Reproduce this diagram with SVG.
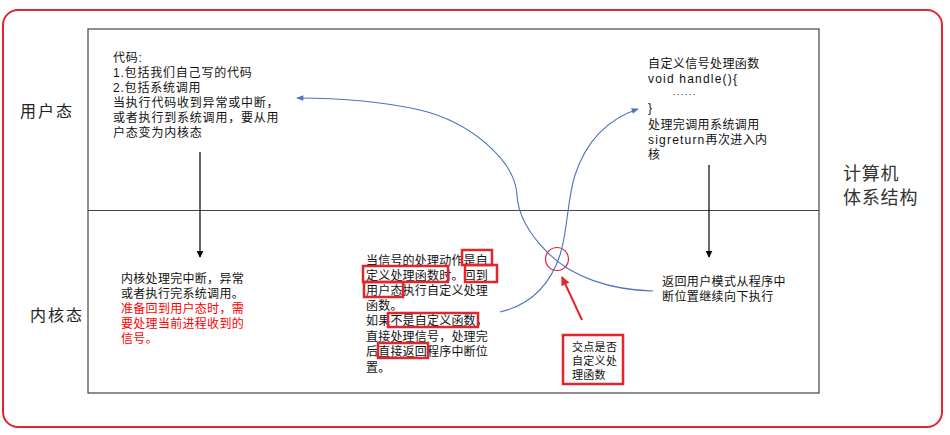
<svg xmlns="http://www.w3.org/2000/svg" width="950" height="435" viewBox="0 0 950 435">
<style>
.t{font-family:"Liberation Sans","Noto Sans CJK SC",sans-serif;font-size:12px;fill:#111;}
.lat{letter-spacing:1.2px;}
.lab{font-family:"Noto Sans CJK SC",sans-serif;font-size:16px;fill:#222;letter-spacing:2px;}
.big{font-family:"Noto Sans CJK SC",sans-serif;font-size:18px;fill:#333;letter-spacing:0.8px;}
.red{fill:#ff0000;}
.rbox{fill:none;stroke:#e3262e;stroke-width:2.5;}
.blk{stroke:#000;stroke-width:1.2;fill:none;}
.blue{stroke:#4a72c4;stroke-width:1.1;fill:none;}
</style>
<defs>
<marker id="ab" viewBox="0 0 10 10" refX="9" refY="5" markerWidth="7" markerHeight="7" orient="auto" markerUnits="userSpaceOnUse"><path d="M0,0 L10,5 L0,10 z" fill="#000"/></marker>
<marker id="au" viewBox="0 0 10 10" refX="9" refY="5" markerWidth="8" markerHeight="7" orient="auto" markerUnits="userSpaceOnUse"><path d="M0,1 L10,5 L0,9 z" fill="#4a72c4"/></marker>
<marker id="ar" viewBox="0 0 10 10" refX="9" refY="5" markerWidth="10" markerHeight="9" orient="auto" markerUnits="userSpaceOnUse"><path d="M0,0 L10,5 L0,10 z" fill="#e3262e"/></marker>
</defs>
<rect x="0" y="0" width="950" height="435" fill="#fff"/>
<rect id="frame" x="3" y="10" width="939" height="417" rx="15" ry="15" fill="none" stroke="#e3262e" stroke-width="2"/>
<g id="grid">
<rect x="88" y="29" width="731" height="364" fill="none" stroke="#444" stroke-width="1.2"/>
<line x1="88" y1="210.5" x2="819" y2="210.5" stroke="#444" stroke-width="1.2"/>
</g>
<g id="label-user"><text class="lab" x="20" y="117">用户态</text></g>
<g id="label-kernel"><text class="lab" x="30" y="321">内核态</text></g>
<g id="label-arch"><text class="big" x="843" y="180">计算机</text><text class="big" x="843" y="203.5">体系结构</text></g>
<g id="node-code">
<text class="t" style="letter-spacing:0.8px" x="113" y="62">代码:</text>
<text class="t" style="letter-spacing:0.8px" x="113" y="77">1.包括我们自己写的代码</text>
<text class="t" style="letter-spacing:0.8px" x="113" y="92">2.包括系统调用</text>
<text class="t" style="letter-spacing:0.8px" x="113" y="107">当执行代码收到异常或中断，</text>
<text class="t" style="letter-spacing:0.8px" x="113" y="122">或者执行到系统调用，要从用</text>
<text class="t" style="letter-spacing:0.8px" x="113" y="137">户态变为内核态</text>
</g>
<g id="node-kernel">
<text class="t" style="letter-spacing:0.3px" x="121" y="283">内核处理完中断，异常</text>
<text class="t" style="letter-spacing:0.3px" x="121" y="298">或者执行完系统调用。</text>
<text class="t red" style="letter-spacing:0.3px" x="121" y="313">准备回到用户态时，需</text>
<text class="t red" style="letter-spacing:0.3px" x="121" y="328">要处理当前进程收到的</text>
<text class="t red" style="letter-spacing:0.3px" x="121" y="343">信号。</text>
</g>
<g id="node-handler">
<text class="t" style="letter-spacing:0.4px" x="648" y="67.5">自定义信号处理函数</text>
<text class="t lat" x="648" y="83">void handle(){</text>
<text class="t" style="font-size:9px;letter-spacing:1.5px" x="673" y="94.5">......</text>
<text class="t lat" x="648" y="112">}</text>
<text class="t" style="letter-spacing:0.4px" x="648" y="128.5">处理完调用系统调用</text>
<text class="t" style="letter-spacing:0.4px" x="648" y="143.5"><tspan class="lat">sigreturn</tspan>再次进入内</text>
<text class="t" x="648" y="158.5">核</text>
</g>
<g id="node-return">
<text class="t" style="letter-spacing:0.4px" x="662" y="285.5">返回用户模式从程序中</text>
<text class="t" style="letter-spacing:0.4px" x="662" y="300.5">断位置继续向下执行</text>
</g>
<g id="node-signal">
<text class="t" style="letter-spacing:0.2px" x="366" y="264.5">当信号的处理动作是自</text>
<text class="t" style="letter-spacing:0.2px" x="366" y="279.5">定义处理函数时。回到</text>
<text class="t" style="letter-spacing:0.2px" x="366" y="295">用户态执行自定义处理</text>
<text class="t" style="letter-spacing:0.2px" x="366" y="310">函数。</text>
<text class="t" style="letter-spacing:0.2px" x="366" y="325">如果不是自定义函数，</text>
<text class="t" style="letter-spacing:0.2px" x="366" y="340.5">直接处理信号，处理完</text>
<text class="t" style="letter-spacing:0.2px" x="366" y="356">后直接返回程序中断位</text>
<text class="t" style="letter-spacing:0.2px" x="366" y="371.5">置。</text>
<rect class="rbox" x="462" y="250" width="30" height="15"/>
<rect class="rbox" x="363" y="266" width="85" height="16"/>
<rect class="rbox" x="465" y="265" width="32" height="17"/>
<rect class="rbox" x="364" y="282" width="39" height="15"/>
<rect class="rbox" x="388" y="313" width="90" height="14"/>
<rect class="rbox" x="378" y="343" width="50" height="15"/>
</g>
<g id="node-note">
<rect class="rbox" x="563" y="335" width="60" height="49"/>
<text class="t" style="font-size:11px;letter-spacing:0.3px" x="572" y="351">交点是否</text>
<text class="t" style="font-size:11px;letter-spacing:0.3px" x="572" y="365">自定义处</text>
<text class="t" style="font-size:11px;letter-spacing:0.3px" x="572" y="379">理函数</text>
</g>
<g id="node-cross">
<circle cx="557" cy="259" r="11.5" fill="none" stroke="#e3262e" stroke-width="1.2"/>
</g>
<g id="connectors">
<line class="blk" x1="200" y1="152" x2="200" y2="257" marker-end="url(#ab)"/>
<line class="blk" x1="709" y1="165" x2="709" y2="257" marker-end="url(#ab)"/>
<path class="blue" d="M653,291 C610,290 572,277 548,253 C528,233 518,215 517,195 C515,160 470,122 420,110 C380,101 340,98 297,98" marker-end="url(#au)"/>
<path class="blue" d="M500,312 C530,305 550,285 560,255 C568,230 567,200 575,175 C585,145 605,120 638,109" marker-end="url(#au)"/>
<line x1="582" y1="320" x2="562" y2="277" stroke="#e3262e" stroke-width="2" marker-end="url(#ar)"/>
</g>
</svg>
